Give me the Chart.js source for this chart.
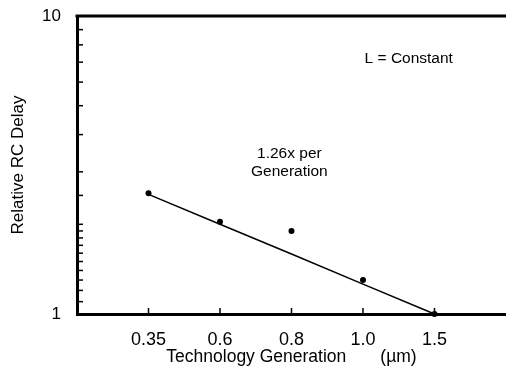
<!DOCTYPE html>
<html>
<head>
<meta charset="utf-8">
<script src="https://cdn.jsdelivr.net/npm/chart.js@4/dist/chart.umd.min.js"></script>
<style>
  html, body { margin: 0; padding: 0; background: #fff; overflow: hidden; }
</style>
</head>
<body>
<canvas id="chart" width="506" height="377"></canvas>
<script>
// technology generations (um), evenly spaced on the x axis
const generations = ["0.35", "0.6", "0.8", "1.0", "1.5"];
// measured relative RC delay
const measured = [2.54, 2.04, 1.9, 1.3, 1.0];
// fitted trend, 1.26x per generation
const trend = [2.52, 2.0, 1.59, 1.26, 1.0];
const yTickLabels = [1, 10];

const FONT = "'Liberation Sans', Arial, Helvetica, sans-serif";

// empty slots on each side so the points sit inside the frame
const labels = ["", ...generations, ""];
const pad = (arr) => [null, ...arr, null];

// draws the thick top frame line, the short inward tick marks and the notes
const framePlugin = {
  id: "frame",
  afterDraw(chart) {
    const { ctx, chartArea, scales } = chart;
    ctx.save();
    ctx.strokeStyle = "#000";
    ctx.lineWidth = 3;
    ctx.beginPath();
    ctx.moveTo(chartArea.left - 1.5, chartArea.top);
    ctx.lineTo(chartArea.right, chartArea.top);
    ctx.stroke();

    ctx.lineWidth = 1.5;
    scales.y.ticks.forEach((t) => {
      const y = scales.y.getPixelForValue(t.value);
      ctx.beginPath();
      ctx.moveTo(chartArea.left, y);
      ctx.lineTo(chartArea.left + 6, y);
      ctx.stroke();
    });
    generations.forEach((g, i) => {
      const x = scales.x.getPixelForValue(i + 1);
      ctx.beginPath();
      ctx.moveTo(x, chartArea.bottom);
      ctx.lineTo(x, chartArea.bottom - 6);
      ctx.stroke();
    });

    // annotations
    ctx.fillStyle = "#000";
    ctx.font = "15.5px " + FONT;
    ctx.textAlign = "center";
    ctx.textBaseline = "middle";
    ctx.fillText("L = Constant", scales.x.getPixelForValue(4.64), scales.y.getPixelForValue(7.2));
    ctx.fillText("1.26x per", scales.x.getPixelForValue(2.97), scales.y.getPixelForValue(3.44));
    ctx.fillText("Generation", scales.x.getPixelForValue(2.97), scales.y.getPixelForValue(3.0));
    ctx.restore();
  }
};

new Chart(document.getElementById("chart"), {
  type: "line",
  data: {
    labels: labels,
    datasets: [
      {
        label: "Trend",
        data: pad(trend),
        borderColor: "#000",
        borderWidth: 1.5,
        pointRadius: 0,
        fill: false,
        tension: 0,
        clip: false
      },
      {
        label: "Measured",
        data: pad(measured),
        showLine: false,
        pointRadius: 3,
        pointBackgroundColor: "#000",
        pointBorderColor: "#000",
        pointBorderWidth: 0,
        clip: false
      }
    ]
  },
  options: {
    responsive: false,
    animation: false,
    layout: { autoPadding: false, padding: { top: 16, right: 0, left: 0, bottom: 0 } },
    plugins: {
      legend: { display: false },
      tooltip: { enabled: false }
    },
    scales: {
      x: {
        type: "category",
        offset: false,
        grid: { display: false, drawTicks: false },
        border: { display: true, color: "#000", width: 3 },
        ticks: {
          color: "#000",
          font: { family: FONT, size: 18 },
          padding: 15,
          maxRotation: 0,
          autoSkip: false
        },
        title: {
          display: true,
          text: "Technology Generation       (\u00b5m)",
          color: "#000",
          font: { family: FONT, size: 17.5 },
          padding: { top: 0, bottom: 9 }
        },
        afterFit(scale) {
          scale.height = 63;
          scale.paddingLeft = 0;
          scale.paddingRight = 0;
        }
      },
      y: {
        type: "logarithmic",
        min: 1,
        max: 10,
        grid: { display: false, drawTicks: false },
        border: { display: true, color: "#000", width: 3 },
        ticks: {
          color: "#000",
          font: { family: FONT, size: 17 },
          padding: 16,
          autoSkip: false,
          callback: (v) => (yTickLabels.includes(v) ? String(v) : "")
        },
        title: {
          display: true,
          text: "Relative RC Delay",
          color: "#000",
          font: { family: FONT, size: 17 },
          padding: { top: 8, bottom: 0 }
        },
        afterFit(scale) {
          scale.width = 77;
          scale.paddingTop = 0;
          scale.paddingBottom = 0;
        }
      }
    }
  },
  plugins: [framePlugin]
});
</script>
</body>
</html>
